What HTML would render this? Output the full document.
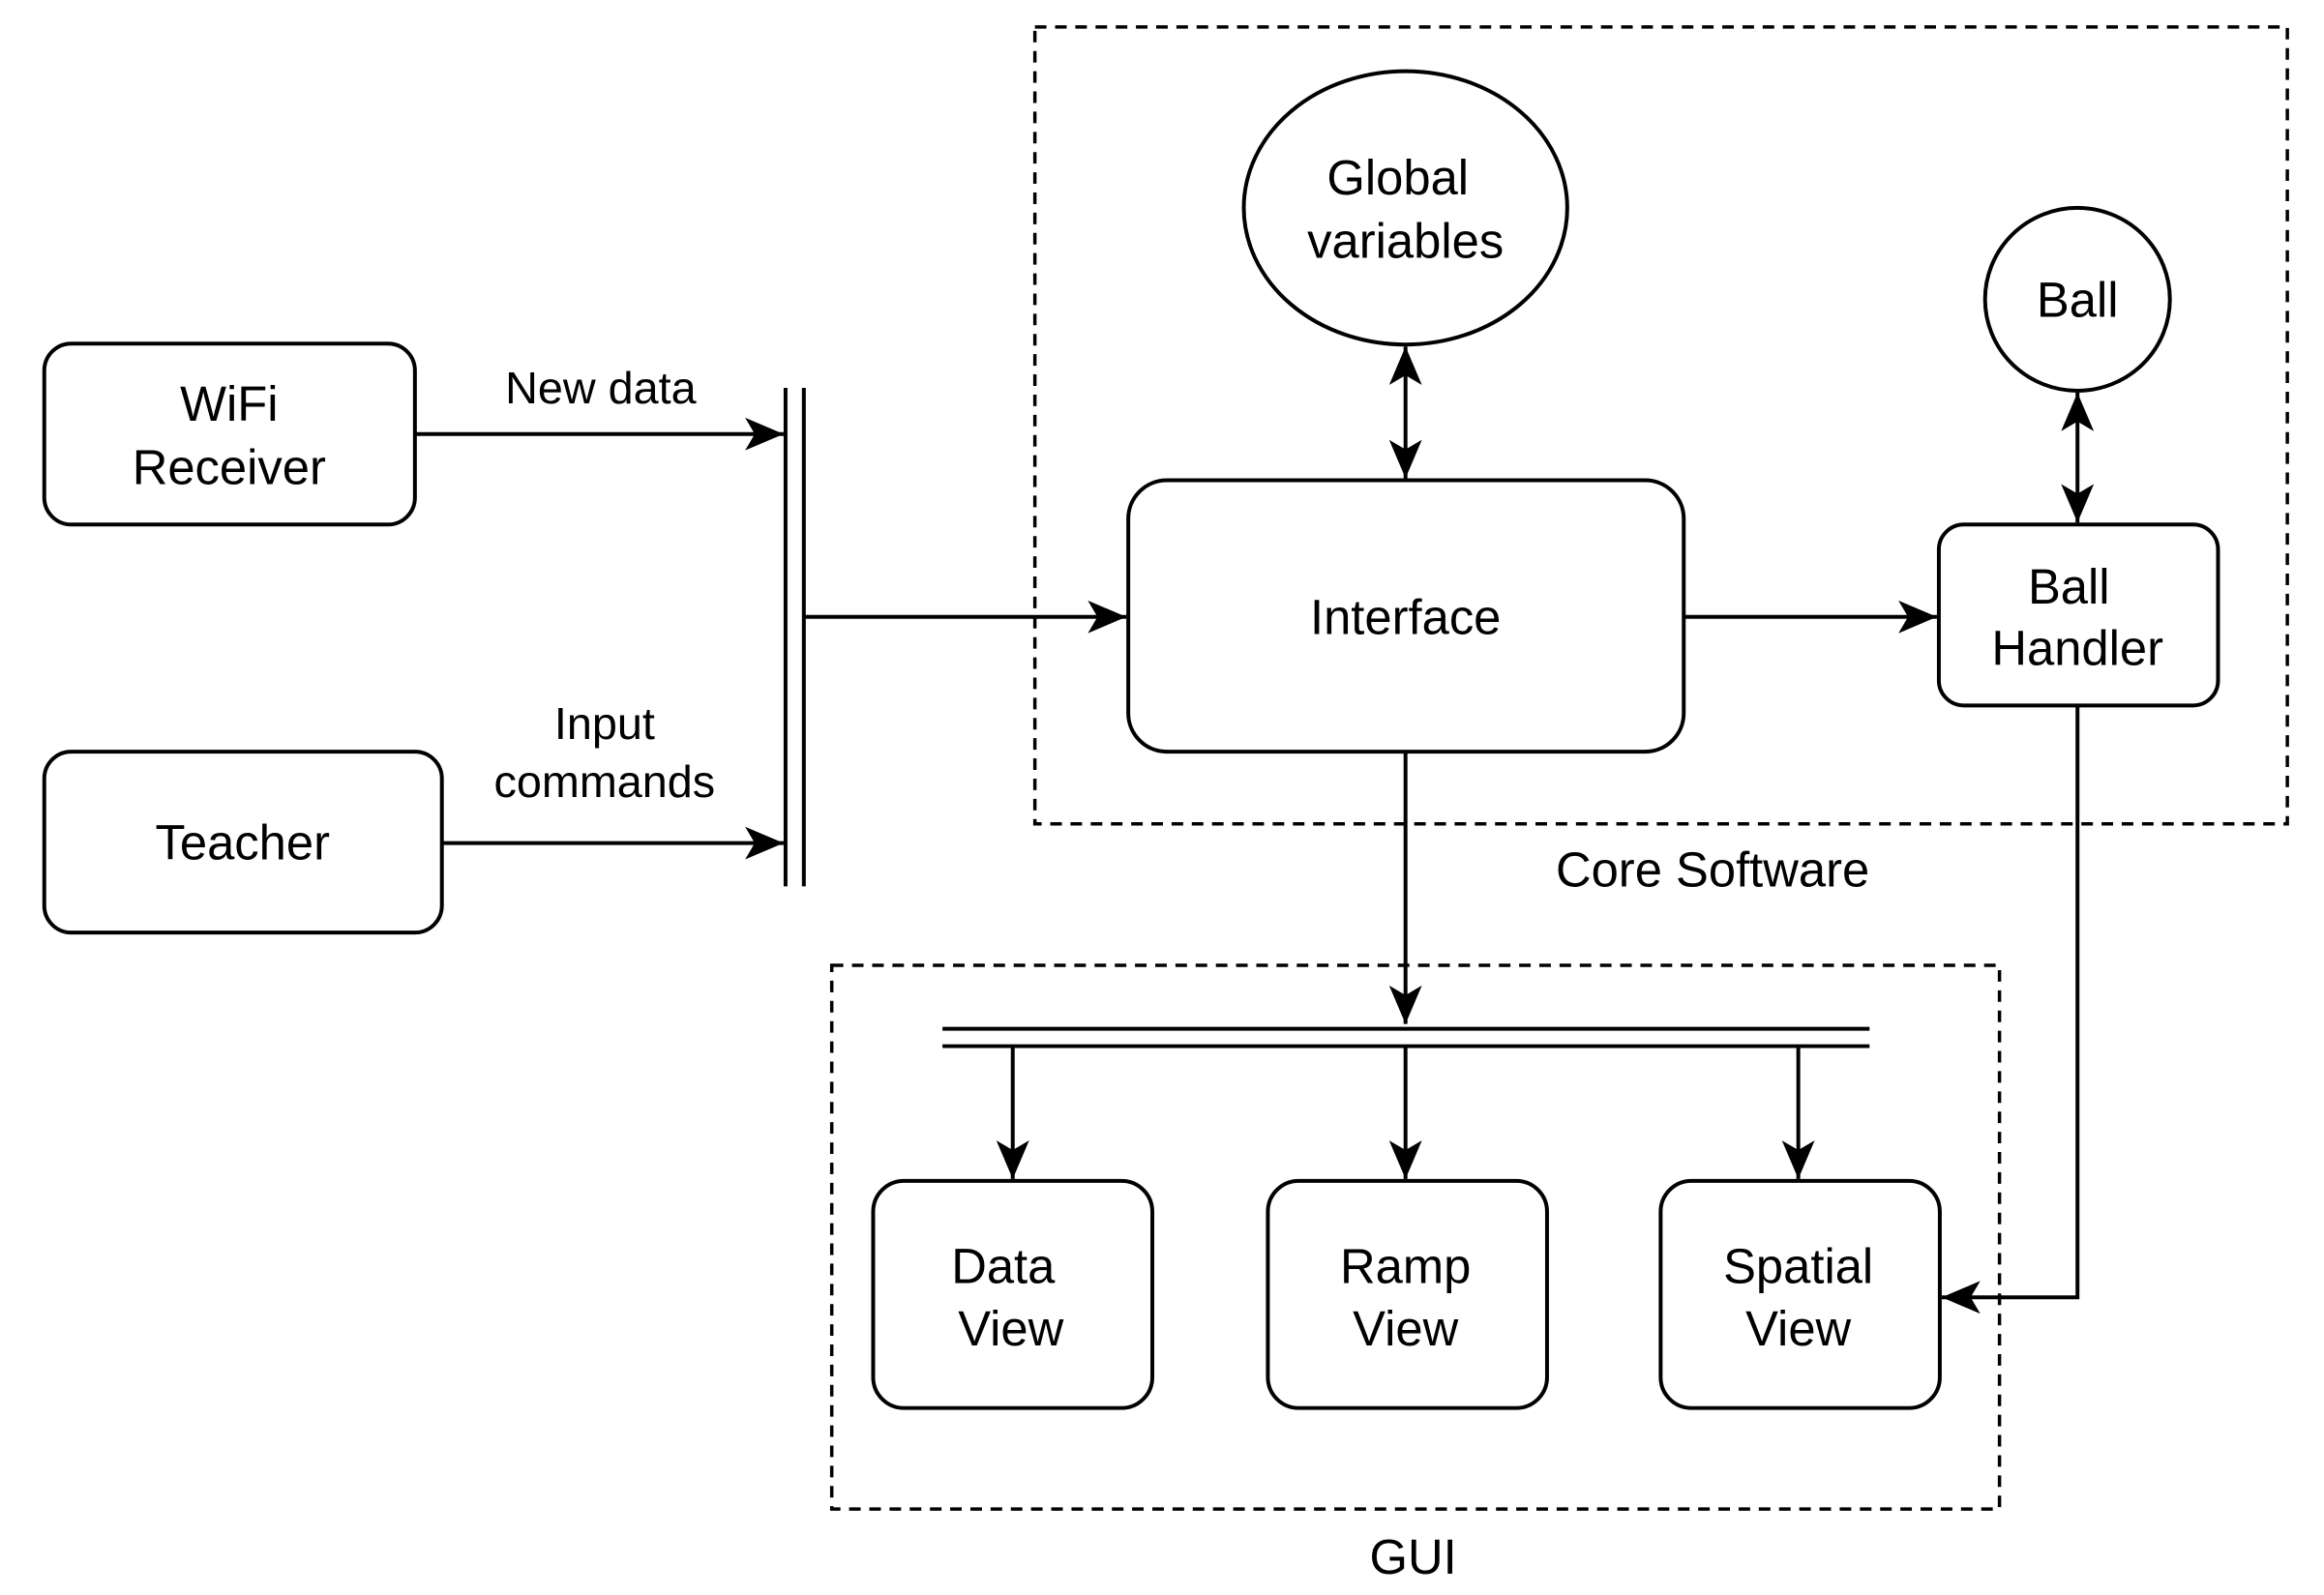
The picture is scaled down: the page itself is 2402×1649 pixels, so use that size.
<!DOCTYPE html>
<html><head><meta charset="utf-8"><style>
html,body{margin:0;padding:0;background:#fff;}
svg{display:block;}
text{font-family:"Liberation Sans",Arial,sans-serif;fill:#000;text-anchor:middle;}
</style></head><body>
<svg width="2402" height="1649" viewBox="0 0 2402 1649" xmlns="http://www.w3.org/2000/svg">
<defs>
<marker id="a" markerWidth="46" markerHeight="36" refX="40" refY="17" orient="auto-start-reverse" markerUnits="userSpaceOnUse">
<path d="M0,0 L40,17 L0,34 L10,17 Z" fill="#000"/>
</marker>
</defs>
<g transform="scale(0.995)">
<g fill="none" stroke="#000" stroke-width="4">
<rect x="1075" y="28" width="1301" height="828" stroke-dasharray="12,9" stroke-width="3.5"/>
<rect x="864" y="1003" width="1213" height="565" stroke-dasharray="12,9" stroke-width="3.5"/>
<rect x="46" y="357" width="385" height="188" rx="28"/>
<rect x="46" y="781" width="413" height="188" rx="28"/>
<rect x="1172" y="499" width="577" height="282" rx="40"/>
<rect x="2014" y="545" width="290" height="188" rx="26"/>
<rect x="907" y="1227" width="290" height="236" rx="32"/>
<rect x="1317" y="1227" width="290" height="236" rx="32"/>
<rect x="1725" y="1227" width="290" height="236" rx="32"/>
<ellipse cx="1460" cy="216" rx="168" ry="142"/>
<ellipse cx="2158" cy="311" rx="96" ry="95"/>
<line x1="816" y1="403" x2="816" y2="921"/>
<line x1="835" y1="403" x2="835" y2="921"/>
<line x1="979" y1="1069" x2="1942" y2="1069"/>
<line x1="979" y1="1087" x2="1942" y2="1087"/>
<line x1="431" y1="451" x2="814" y2="451" marker-end="url(#a)"/>
<line x1="459" y1="876" x2="814" y2="876" marker-end="url(#a)"/>
<line x1="835" y1="641" x2="1170" y2="641" marker-end="url(#a)"/>
<line x1="1749" y1="641" x2="2012" y2="641" marker-end="url(#a)"/>
<line x1="1460" y1="360" x2="1460" y2="497" marker-start="url(#a)" marker-end="url(#a)"/>
<line x1="2158" y1="408" x2="2158" y2="543" marker-start="url(#a)" marker-end="url(#a)"/>
<line x1="1460" y1="781" x2="1460" y2="1064" marker-end="url(#a)"/>
<line x1="1052" y1="1087" x2="1052" y2="1225" marker-end="url(#a)"/>
<line x1="1460" y1="1087" x2="1460" y2="1225" marker-end="url(#a)"/>
<line x1="1868" y1="1087" x2="1868" y2="1225" marker-end="url(#a)"/>
<polyline points="2158,733 2158,1348 2017,1348" marker-end="url(#a)"/>
</g>
<g font-size="51">
<text x="238" y="437">WiFi</text>
<text x="238" y="503">Receiver</text>
<text x="252" y="893">Teacher</text>
<text x="1460" y="659">Interface</text>
<text x="1452" y="202">Global</text>
<text x="1460" y="268">variables</text>
<text x="2158" y="329">Ball</text>
<text x="2149" y="627">Ball</text>
<text x="2158" y="691">Handler</text>
<text x="1042" y="1333">Data</text>
<text x="1050" y="1398">View</text>
<text x="1460" y="1333">Ramp</text>
<text x="1460" y="1398">View</text>
<text x="1868" y="1333">Spatial</text>
<text x="1868" y="1398">View</text>
<text x="1779" y="921">Core Software</text>
<text x="1468" y="1635">GUI</text>
</g>
<g font-size="47">
<text x="624" y="419">New data</text>
<text x="628" y="768">Input</text>
<text x="628" y="828">commands</text>
</g>
</g>
</svg>
</body></html>
